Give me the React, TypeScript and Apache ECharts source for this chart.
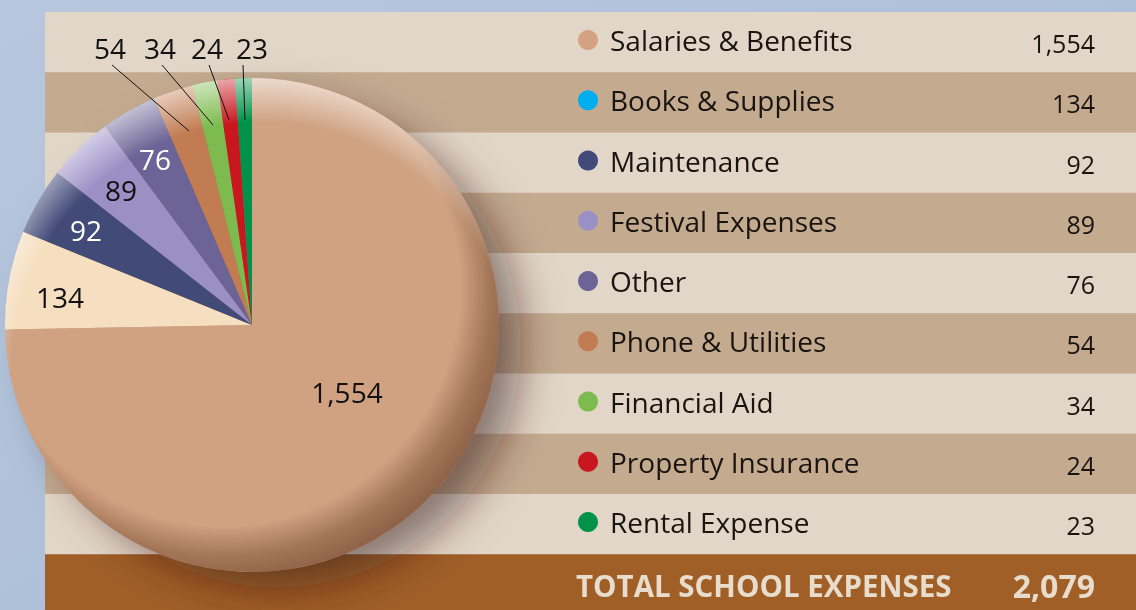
import React, { useEffect, useRef } from "react";
import * as echarts from "echarts";

const categories = [
  "Salaries & Benefits",
  "Books & Supplies",
  "Maintenance",
  "Festival Expenses",
  "Other",
  "Phone & Utilities",
  "Financial Aid",
  "Property Insurance",
  "Rental Expense",
];
const values = [1554, 134, 92, 89, 76, 54, 34, 24, 23];
const sliceColors = ["#d0a282", "#f6dfc0", "#424a78", "#9b90c6", "#6c6496", "#c17c52", "#7dbb4e", "#c8171f", "#00924a"];
const legendColors = ["#d4a283", "#00aeef", "#424a78", "#9b90c6", "#6c6496", "#c17c52", "#7dbb4e", "#c8171f", "#00924a"];
const labelColors = ["#111", "#111", "#fff", "#111", "#fff", "#111", "#111", "#111", "#111"];
const totalLabel = "TOTAL SCHOOL EXPENSES";
const totalValue = 2079;

// label placement (layout only)
const labelPos: [number, number][] = [
  [347, 392], [60, 297], [86, 230], [121, 190], [155, 159],
  [110, 48], [160, 48], [207, 48], [252, 48],
];
const lineEnds: [number, number][] = [
  [0, 0], [0, 0], [0, 0], [0, 0], [0, 0],
  [189, 131], [213, 125], [229, 120], [245, 120],
];

const fmt = (v: number) => v.toLocaleString("en-US");

const W = 1136;
const H = 610;
const CX = 252;
const CY = 325;
const R = 247;
const FONT = "'Open Sans', Lato, sans-serif";

export default function App() {
  const ref = useRef<HTMLDivElement>(null);
  useEffect(() => {
    if (!ref.current) return;
    const chart = echarts.init(ref.current, undefined, { renderer: "svg" });
    const rowTop = 12;
    const rowH = 60.25;
    const graphics: any[] = [];
    graphics.push({
      type: "rect",
      z: 0,
      silent: true,
      shape: { x: 0, y: 0, width: W, height: H },
      style: {
        fill: { type: "linear", x: 0, y: 0, x2: 1, y2: 1, colorStops: [{ offset: 0, color: "#b6c7de" }, { offset: 1, color: "#a8bad4" }] },
      },
    });
    categories.forEach((name, i) => {
      const y = rowTop + i * rowH;
      graphics.push({
        type: "rect",
        z: 0,
        silent: true,
        shape: { x: 45, y, width: W - 45, height: rowH + 0.5 },
        style: { fill: i % 2 === 0 ? "#e2d6c8" : "#c4ab90" },
      });
      graphics.push({
        type: "circle",
        z: 6,
        silent: true,
        shape: { cx: 588, cy: y + rowH / 2 - 2, r: 10 },
        style: { fill: legendColors[i] },
      });
      graphics.push({
        type: "text",
        z: 6,
        silent: true,
        style: { text: name, x: 610, y: y + rowH / 2 - 2, font: `28px ${FONT}`, fill: "#1a1410", textAlign: "left", textVerticalAlign: "middle" },
      });
      graphics.push({
        type: "text",
        z: 6,
        silent: true,
        style: { text: fmt(values[i]), x: 1095, y: y + rowH / 2 + 1, font: `25px ${FONT}`, fill: "#1a1410", textAlign: "right", textVerticalAlign: "middle" },
      });
    });
    const totalTop = rowTop + categories.length * rowH;
    graphics.push({
      type: "rect",
      z: 0,
      silent: true,
      shape: { x: 45, y: totalTop, width: W - 45, height: H - totalTop },
      style: { fill: "#a05f27" },
    });
    graphics.push({
      type: "text",
      z: 6,
      silent: true,
      style: { text: totalLabel, x: 576, y: totalTop + 31, font: `700 29.5px ${FONT}`, fill: "#e8dccc", textAlign: "left", textVerticalAlign: "middle" },
    });
    graphics.push({
      type: "text",
      z: 6,
      silent: true,
      style: { text: fmt(totalValue), x: 1095, y: totalTop + 31, font: `700 32px ${FONT}`, fill: "#e8dccc", textAlign: "right", textVerticalAlign: "middle" },
    });
    // pie shadow
    graphics.push({
      type: "circle",
      z: 1,
      silent: true,
      shape: { cx: CX, cy: CY, r: R - 4 },
      style: { fill: "#9a6a50", shadowBlur: 40, shadowOffsetX: 26, shadowOffsetY: 20, shadowColor: "rgba(50,25,10,0.5)" },
    });
    // dome shading overlays
    graphics.push({
      type: "circle",
      z: 5,
      silent: true,
      shape: { cx: CX, cy: CY, r: R },
      style: {
        fill: {
          type: "radial", x: 222, y: 288, r: 305, global: true,
          colorStops: [
            { offset: 0, color: "rgba(90,45,20,0)" },
            { offset: 0.78, color: "rgba(90,45,20,0)" },
            { offset: 0.88, color: "rgba(90,45,20,0.38)" },
            { offset: 1, color: "rgba(80,40,20,0.6)" },
          ],
        },
      },
    });
    graphics.push({
      type: "circle",
      z: 5,
      silent: true,
      shape: { cx: CX, cy: CY, r: R },
      style: {
        fill: {
          type: "radial", x: 262, y: 372, r: 305, global: true,
          colorStops: [
            { offset: 0, color: "rgba(255,255,255,0)" },
            { offset: 0.82, color: "rgba(255,255,255,0)" },
            { offset: 1, color: "rgba(255,255,255,0.75)" },
          ],
        },
      },
    });
    // leader lines drawn from label to slice interior
    [5, 6, 7, 8].forEach((i) => {
      graphics.push({
        type: "line",
        z: 7,
        silent: true,
        shape: { x1: labelPos[i][0] + (i === 8 ? -9 : 2), y1: 65, x2: lineEnds[i][0], y2: lineEnds[i][1] },
        style: { stroke: "#111", lineWidth: 1 },
      });
    });

    chart.setOption({
      animation: false,
      graphic: { elements: graphics },
      series: [
        {
          type: "pie",
          z: 2,
          center: [CX, CY],
          radius: R,
          startAngle: 90,
          clockwise: true,
          silent: true,
          itemStyle: { borderWidth: 0 },
          label: { show: true, position: "inside", fontFamily: FONT, fontSize: 28, formatter: (p: any) => fmt(p.value) },
          labelLine: { show: false },
          labelLayout: (p: any) => ({ x: labelPos[p.dataIndex][0], y: labelPos[p.dataIndex][1], align: "center", verticalAlign: "middle" }),
          data: categories.map((name, i) => ({
            name,
            value: values[i],
            itemStyle: { color: sliceColors[i] },
            label: { color: labelColors[i] },
          })),
        },
      ],
    });
    return () => chart.dispose();
  }, []);
  return <div ref={ref} style={{ position: "fixed", left: 0, top: 0, width: W, height: H }} />;
}
